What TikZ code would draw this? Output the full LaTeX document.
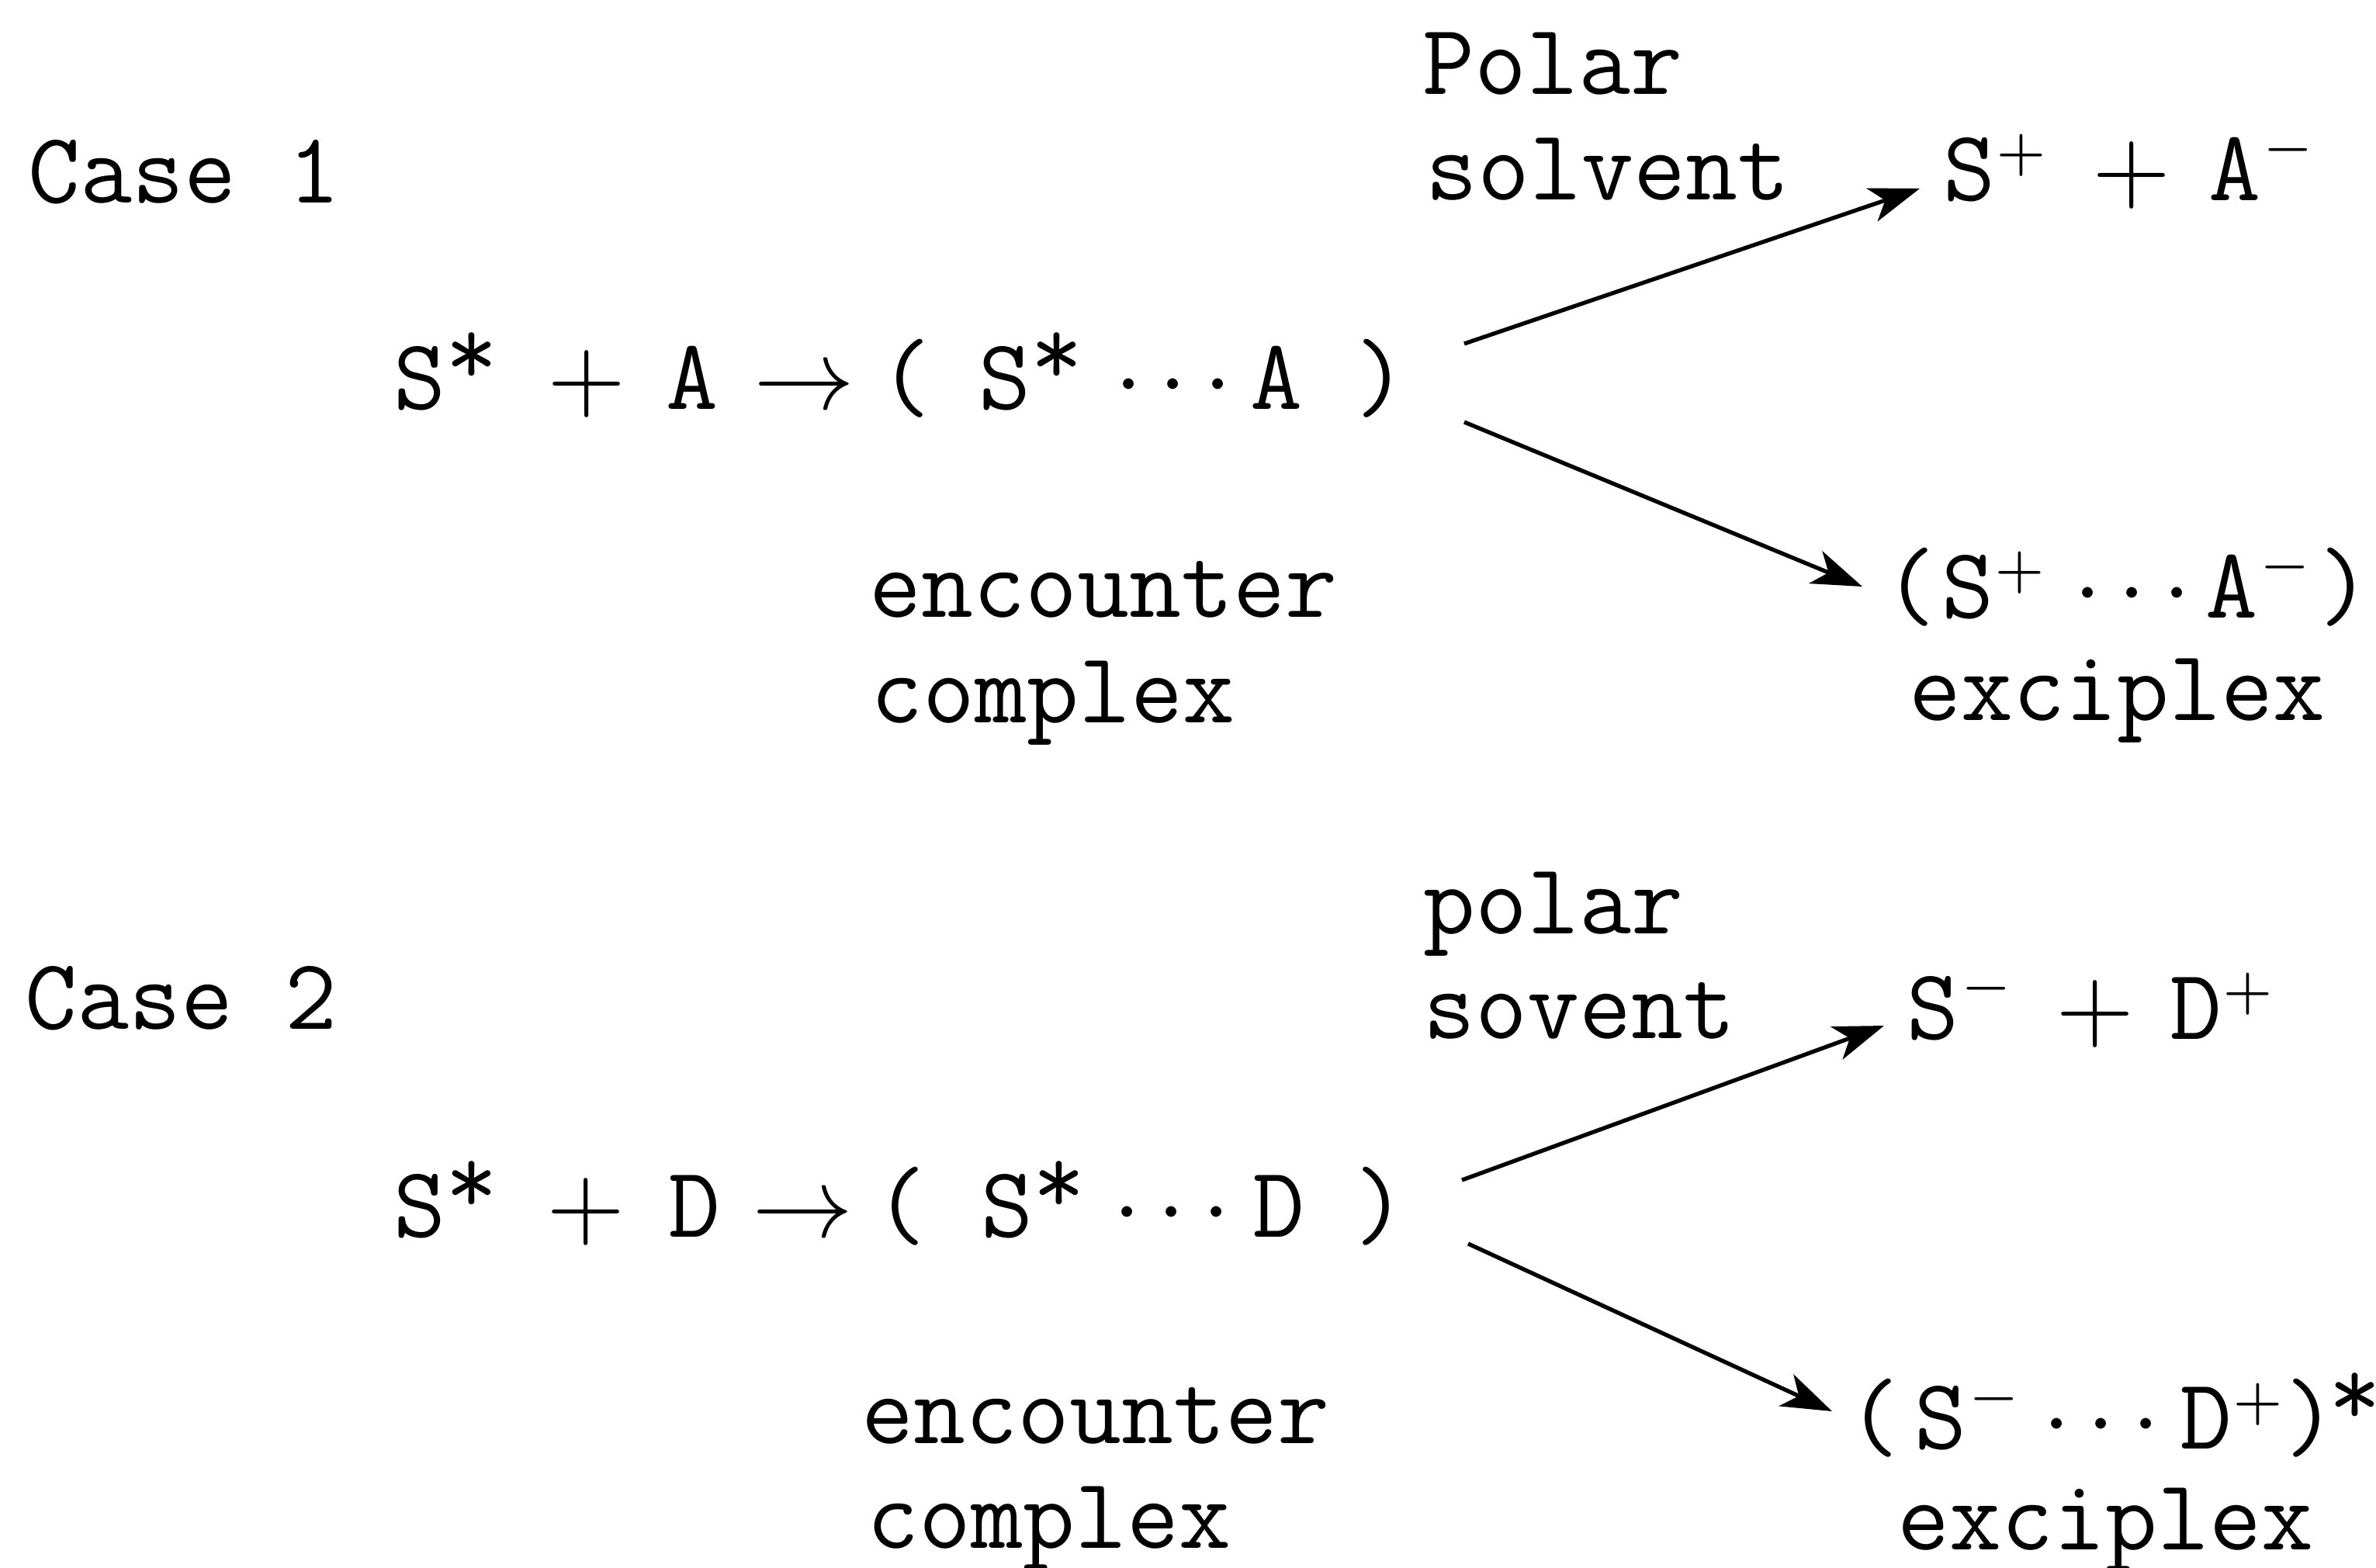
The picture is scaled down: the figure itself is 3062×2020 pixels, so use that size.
\documentclass[tikz,border=0pt]{standalone}
\usepackage{fontspec}
\usetikzlibrary{arrows.meta}
\tikzset{
  txt/.style={inner sep=0pt, outer sep=0pt, anchor=base west, font=\fontsize{37}{44}\selectfont\ttfamily},
  ctxt/.style={txt, anchor=base},
  arr/.style={line width=1.5pt, -{Stealth[length=0.65cm, width=0.45cm, inset=0.18cm]}}
}
\newcommand{\mth}[1]{\scalebox{3.7}{\fontsize{10}{12}\selectfont$#1$}}
\newcommand{\spl}{\raisebox{0.41cm}{\mth{\scriptscriptstyle +}}}
\newcommand{\smi}{\raisebox{0.48cm}{\mth{\scriptscriptstyle -}}}
\newcommand{\sst}{\raisebox{0.30cm}{*}}
\newcommand{\dts}{\mth{\cdotp\cdotp\cdotp}}
\begin{document}
\begin{tikzpicture}[x=0.01cm, y=-0.01cm]
\useasboundingbox (0,0) rectangle (3062,2020);
% ---------- Case 1 ----------
\node[txt] (case1) at (36,261) {Case 1};
\node[txt] (polar1) at (1833,121) {Polar};
\node[txt] (solv1) at (1837,257) {solvent};
% equation 1
\node[txt]  (e1s)  at (507,527)  {S\sst};
\node[ctxt] (e1p)  at (756,527)  {\mth{+}};
\node[ctxt] (e1a)  at (892,527)  {A};
\node[ctxt] (e1ar) at (1037,527) {\mth{\rightarrow}};
\node[ctxt] (e1l)  at (1167,527) {(};
\node[txt]  (e1s2) at (1261,527) {S\sst};
\node[ctxt] (e1d)  at (1512,527) {\dts};
\node[ctxt] (e1a2) at (1645,527) {A};
\node[ctxt] (e1r)  at (1780,527) {)};
\node[txt] (enc1) at (1120,795) {encounter};
\node[txt] (cpx1) at (1122,931) {complex};
% products 1
\node[txt]  (r1s)  at (2504,258) {S\spl};
\node[ctxt] (r1p)  at (2747,258) {\mth{+}};
\node[txt]  (r1a)  at (2846,258) {A\smi};
\node[ctxt] (x1l)  at (2462,796) {(};
\node[txt]  (x1s)  at (2502,796) {S\spl};
\node[ctxt] (x1d)  at (2748,796) {\dts};
\node[txt]  (x1a)  at (2842,796) {A\smi};
\node[ctxt] (x1r)  at (3022,796) {)};
\node[txt] (exc1) at (2460,928) {exciplex};
% arrows 1
\coordinate (a1s) at (1887,443);
\coordinate (a1e) at (2474,243);
\coordinate (a2s) at (1887,544);
\coordinate (a2e) at (2400,756);
\draw[arr] (a1s) -- (a1e);
\draw[arr] (a2s) -- (a2e);
% ---------- Case 2 ----------
\node[txt] (case2) at (32,1326) {Case 2};
\node[txt] (polar2) at (1834,1203) {polar};
\node[txt] (solv2) at (1834,1338) {sovent};
% equation 2
\node[txt]  (e2s)  at (507,1594)  {S\sst};
\node[ctxt] (e2p)  at (755,1594)  {\mth{+}};
\node[ctxt] (e2dd) at (895,1594)  {D};
\node[ctxt] (e2ar) at (1035,1594) {\mth{\rightarrow}};
\node[ctxt] (e2l)  at (1161,1594) {(};
\node[txt]  (e2s2) at (1264,1594) {S\sst};
\node[ctxt] (e2d)  at (1510,1594) {\dts};
\node[ctxt] (e2d2) at (1648,1594) {D};
\node[ctxt] (e2r)  at (1779,1594) {)};
\node[txt] (enc2) at (1110,1860) {encounter};
\node[txt] (cpx2) at (1117,1995) {complex};
% products 2
\node[txt]  (r2s)  at (2457,1339) {S\smi};
\node[ctxt] (r2p)  at (2700,1339) {\mth{+}};
\node[txt]  (r2d)  at (2796,1339) {D\spl};
\node[ctxt] (x2l)  at (2415,1867) {(};
\node[txt]  (x2s)  at (2467,1867) {S\smi};
\node[ctxt] (x2d)  at (2708,1867) {\dts};
\node[txt]  (x2dd) at (2809,1867) {D\spl};
\node[txt]  (x2r)  at (2944,1867) {)\hspace{-0.1cm}\sst};
\node[txt] (exc2) at (2445,1997) {exciplex};
% arrows 2
\coordinate (a3s) at (1884,1521);
\coordinate (a3e) at (2428,1322);
\coordinate (a4s) at (1892,1603);
\coordinate (a4e) at (2361,1819);
\draw[arr] (a3s) -- (a3e);
\draw[arr] (a4s) -- (a4e);
\end{tikzpicture}
\end{document}
